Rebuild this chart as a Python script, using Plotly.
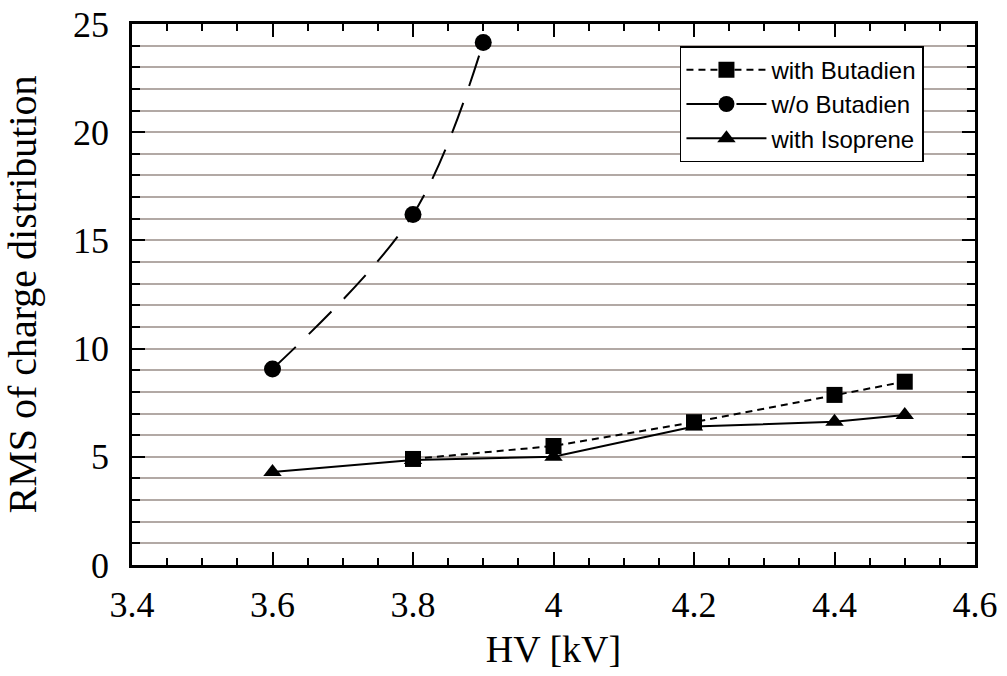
import plotly.graph_objects as go

# Data
hv_wo = [3.6, 3.8, 3.9]
rms_wo = [9.06, 16.2, 24.15]

hv_but = [3.8, 4.0, 4.2, 4.4, 4.5]
rms_but = [4.9, 5.5, 6.6, 7.86, 8.47]

hv_iso = [3.6, 3.8, 4.0, 4.2, 4.4, 4.5]
rms_iso = [4.3, 4.85, 5.0, 6.4, 6.62, 6.93]

x_ticks = [3.4, 3.6, 3.8, 4.0, 4.2, 4.4, 4.6]
x_labels = ["3.4", "3.6", "3.8", "4", "4.2", "4.4", "4.6"]
y_ticks = [0, 5, 10, 15, 20, 25]

fig = go.Figure()
fig.add_trace(go.Scatter(
    x=hv_but, y=rms_but, name="with Butadien", mode="lines+markers",
    line=dict(color="black", width=2, dash="7px,5px"),
    marker=dict(symbol="square", size=16, color="black"),
))
fig.add_trace(go.Scatter(
    x=hv_wo, y=rms_wo, name="w/o Butadien", mode="lines+markers",
    line=dict(color="black", width=2, dash="32px,18px", shape="spline"),
    marker=dict(symbol="circle", size=17, color="black"),
))
fig.add_trace(go.Scatter(
    x=hv_iso, y=rms_iso, name="with Isoprene", mode="lines+markers",
    line=dict(color="black", width=2),
    marker=dict(symbol="triangle-up", size=16, color="black"),
))

serif = "Liberation Serif, Times New Roman, serif"
fig.update_layout(
    width=1007, height=676,
    margin=dict(l=132, r=32, t=24, b=111, autoexpand=False),
    paper_bgcolor="white", plot_bgcolor="white",
    font=dict(family=serif, size=36, color="black"),
    showlegend=True,
    legend=dict(
        x=0.650, y=0.959, xanchor="left", yanchor="top",
        bgcolor="white", bordercolor="black", borderwidth=1.5,
        font=dict(family="Liberation Sans, Arial, sans-serif", size=24, color="black"),
        itemwidth=80, tracegroupgap=0,
    ),
    xaxis=dict(
        range=[3.4, 4.6], tickvals=x_ticks, ticktext=x_labels,
        ticks="inside", ticklen=13, tickwidth=2, tickcolor="black",
        showline=True, linecolor="black", linewidth=2.5, mirror="allticks",
        showgrid=False, zeroline=False, automargin=False,
        minor=dict(dtick=0.05, ticks="inside", ticklen=7, tickwidth=2, tickcolor="black", showgrid=False),
        title=dict(text="HV [kV]", font=dict(family=serif, size=38), standoff=12),
        tickfont=dict(family=serif, size=36),
        ticklabelstandoff=6, ticklabeloverflow="allow",
    ),
    yaxis=dict(
        range=[0, 25], tickvals=y_ticks,
        ticks="inside", ticklen=13, tickwidth=2, tickcolor="black",
        showline=True, linecolor="black", linewidth=2.5, mirror="allticks",
        showgrid=True, gridcolor="#b2a9a5", gridwidth=2, zeroline=False, automargin=False,
        minor=dict(dtick=1, ticks="inside", ticklen=8, tickwidth=2, tickcolor="black",
                   showgrid=True, gridcolor="#b2a9a5", gridwidth=2),
        title=dict(text="RMS of charge distribution", font=dict(family=serif, size=40), standoff=26),
        tickfont=dict(family=serif, size=36),
        ticklabelstandoff=13, ticklabeloverflow="allow",
    ),
)

fig.write_html(
    "out.html",
    config={"displayModeBar": False},
    post_script="document.body.style.margin='0';document.body.style.overflow='hidden';",
)
